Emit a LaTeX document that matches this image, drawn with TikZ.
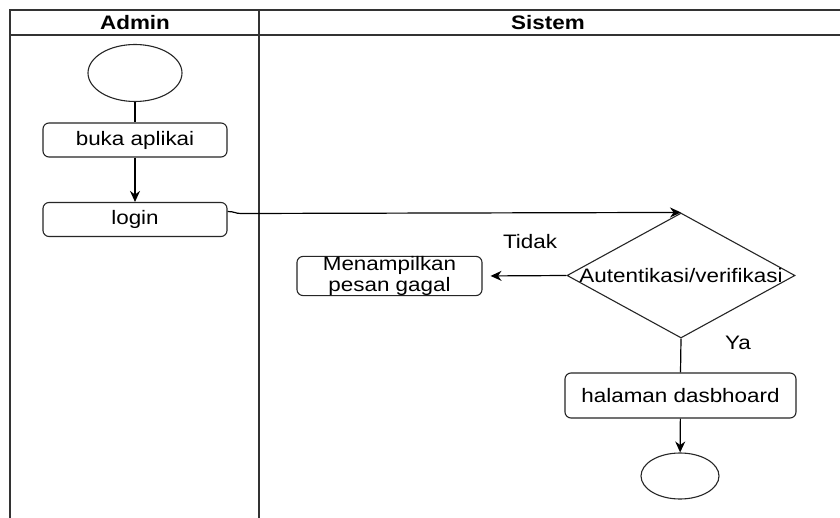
\documentclass[tikz,border=0pt]{standalone}
\usepackage{fontspec}
\setmainfont[FakeStretch=1.15]{Liberation Sans}
\usetikzlibrary{shapes.geometric,arrows.meta}
\begin{document}
\begin{tikzpicture}[x=1pt,y=-1pt,
  lane/.style={draw=black!80,line width=1.8pt},
  flow/.style={draw=black,line width=1.2pt},
  act/.style={draw=black!85,line width=1.1pt,rounded corners=6pt,minimum height=34pt,
    inner sep=0pt,align=center,font=\fontsize{19.5}{21}\selectfont},
  term/.style={draw=black!85,line width=1.1pt,ellipse,inner sep=0pt},
  tip/.style={-{Stealth[length=11pt,width=10pt]}},
  lbl/.style={font=\fontsize{19.5}{21}\selectfont,inner sep=0pt},
  head/.style={font=\fontsize{19.5}{21}\selectfont\bfseries,inner sep=0pt}]
\useasboundingbox (0,0) rectangle (840,518);
\fill[white] (0,0) rectangle (840,518);

% swimlane frame
\draw[lane] (840,10) -- (10,10) -- (10,518);
\draw[lane] (10,35) -- (840,35);
\draw[lane] (259,10) -- (259,518);
\node[head] (hadmin) at (135,22.5) {Admin};
\node[head] (hsistem) at (548,22.5) {Sistem};

% Admin lane
\node[term,minimum width=94pt,minimum height=57pt] (start) at (135,73) {};
\node[act,minimum width=184pt] (buka) at (135,140) {buka aplikai};
\node[act,minimum width=184pt] (login) at (135,219.5) {login};

% Sistem lane
\node[draw=black!85,line width=1.1pt,diamond,aspect=1.824,minimum width=228pt,
  minimum height=125pt,inner sep=0pt] (dia) at (681,275.5) {};
\node[lbl] (diatext) at (681,275.5) {Autentikasi/verifikasi};
\node[act,minimum width=185pt] (gagal) at (389.5,276) {Menampilkan\\pesan gagal};
\node[act,minimum width=231pt,minimum height=45pt] (dash) at (680.5,395.5) {halaman dasbhoard};
\node[term,minimum width=78pt,minimum height=46pt] (end) at (680,476) {};

\node[lbl] (tidak) at (530,242) {Tidak};
\node[lbl] (ya) at (738,343) {Ya};

% connectors
\draw[flow] (start) -- (buka);
\draw[flow,tip] (buka) -- (login);
\draw[flow,tip] ([yshift=8pt]login.east) .. controls +(7,0) and +(-5,0) .. ++(13,2)
  -- (dia.north);
\draw[flow,tip,shorten >=8pt] (dia.west) -- (gagal.east);
\draw[flow] (dia.south) -- (dash.north);
\draw[flow,tip] (dash) -- (end);
\end{tikzpicture}
\end{document}
